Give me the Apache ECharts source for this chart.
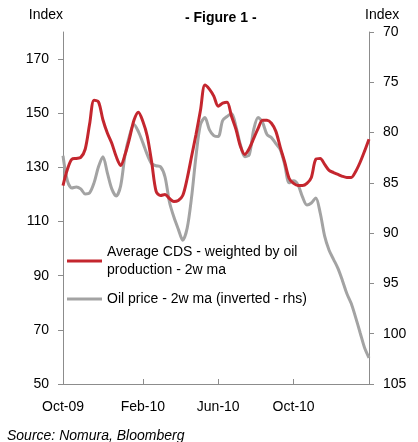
<!DOCTYPE html>
<html>
<head>
<meta charset="utf-8">
<script src="https://cdn.jsdelivr.net/npm/echarts@6/dist/echarts.min.js"></script>
<style>
  html, body { margin: 0; padding: 0; background: #fff; }
  #chart { width: 418px; height: 442px; }
</style>
</head>
<body>
<div id="chart"></div>
<script>
var myChart = echarts.init(document.getElementById('chart'));

var cdsName = 'Average CDS - weighted by oil\nproduction - 2w ma';
var oilName = 'Oil price - 2w ma (inverted - rhs)';
var xTickLabels = ['Oct-09', 'Feb-10', 'Jun-10', 'Oct-10'];
var leftTicks = [50, 70, 90, 110, 130, 150, 170];
var monthNames = ['Jan','Feb','Mar','Apr','May','Jun','Jul','Aug','Sep','Oct','Nov','Dec'];

// weekly observations, first one on 2 Oct 2009
var startDate = Date.UTC(2009, 9, 2);
var cdsValues = [
    123.3, 129.3, 133.0, 133.3, 133.7, 136.7, 146.0, 154.8, 154.2, 147.6,
    142.7, 138.9, 134.0, 130.7, 134.8, 140.7, 147.4, 150.4, 147.0, 141.5,
    131.9, 121.1, 119.6, 120.0, 118.5, 117.4, 117.8, 119.6, 125.9, 134.1,
    142.2, 151.1, 160.4, 158.9, 156.3, 152.6, 153.7, 154.1, 148.9, 144.1,
    137.8, 134.8, 137.0, 140.7, 144.4, 147.4, 147.4, 146.3, 143.3, 137.4,
    131.9, 125.9, 124.1, 123.3, 123.3, 124.1, 126.3, 133.0, 133.3, 131.1,
    128.9, 128.1, 127.4, 126.7, 126.3, 126.3, 128.5, 131.9, 136.0, 140.4
];
var oilValues = [
    82.3, 84.8, 85.5, 85.4, 85.6, 86.1, 86.0, 85.0, 83.4, 82.4,
    84.0, 85.6, 86.3, 85.3, 82.2, 80.3, 79.2, 79.9, 81.0, 82.2,
    83.1, 83.3, 83.4, 84.4, 86.9, 88.4, 89.6, 90.7, 89.5, 86.4,
    82.3, 79.2, 78.5, 79.7, 80.3, 80.4, 78.8, 78.4, 78.1, 79.4,
    81.2, 82.4, 82.2, 79.7, 78.5, 79.0, 80.2, 80.5, 81.1, 81.7,
    83.2, 85.0, 84.8, 85.2, 86.4, 87.2, 87.0, 86.5, 88.0, 90.3,
    91.7, 92.6, 93.5, 94.7, 96.0, 97.0, 98.4, 99.9, 101.4, 102.4
];

var categories = [];
for (var i = 0; i < cdsValues.length; i++) {
    var d = new Date(startDate + i * 7 * 86400000);
    categories.push(d.toISOString().slice(0, 10));
}

function monthLabel(value) {
    var d = new Date(value + 'T00:00:00Z');
    return monthNames[d.getUTCMonth()] + '-' + String(d.getUTCFullYear()).slice(2);
}
function isTick(index, value) {
    var d = new Date(value + 'T00:00:00Z');
    return d.getUTCDate() <= 7 && xTickLabels.indexOf(monthLabel(value)) >= 0;
}

var font = 'Liberation Sans, Arial, sans-serif';
var axisGray = '#8c8c8c';

option = {
    backgroundColor: '#fff',
    animation: false,
    textStyle: { fontFamily: font, color: '#000' },
    title: [
        {
            text: '{n|- }{b|Figure 1}{n| -}',
            left: 180,
            top: 6,
            textStyle: {
                rich: {
                    n: { fontSize: 14, color: '#000', fontFamily: font },
                    b: { fontSize: 14, fontWeight: 'bold', color: '#000', fontFamily: font }
                }
            }
        },
        {
            text: 'Source: Nomura, Bloomberg',
            left: 2,
            top: 424,
            textStyle: { fontSize: 14, fontStyle: 'italic', fontWeight: 'normal', color: '#000', fontFamily: font }
        }
    ],
    legend: [
        {
            data: [cdsName],
            left: 67,
            top: 234,
            padding: 0,
            icon: 'rect',
            itemWidth: 35,
            itemHeight: 3,
            itemGap: 2,
            textStyle: { fontSize: 14, lineHeight: 18, padding: [18, 0, 0, 0], color: '#000', fontFamily: font }
        },
        {
            data: [oilName],
            left: 67,
            top: 290,
            padding: 0,
            icon: 'rect',
            itemWidth: 35,
            itemHeight: 3,
            itemGap: 2,
            textStyle: { fontSize: 14, lineHeight: 18, color: '#000', fontFamily: font }
        }
    ],
    grid: { left: 63, right: 49, top: 32, bottom: 58, containLabel: false },
    xAxis: {
        type: 'category',
        data: categories,
        boundaryGap: false,
        axisLine: { lineStyle: { color: axisGray, width: 1 } },
        axisTick: { inside: true, length: 5, interval: isTick, lineStyle: { color: axisGray } },
        axisLabel: { interval: isTick, formatter: monthLabel, fontSize: 14, margin: 16, color: '#000' },
        splitLine: { show: false }
    },
    yAxis: [
        {
            type: 'value',
            min: 50,
            max: 180,
            interval: 20,
            name: 'Index',
            nameGap: 10,
            nameTextStyle: { fontSize: 14, align: 'right', color: '#000' },
            axisLine: { show: true, lineStyle: { color: axisGray } },
            axisTick: { show: true, length: 5, customValues: leftTicks, lineStyle: { color: axisGray } },
            axisLabel: { customValues: leftTicks, fontSize: 14, margin: 14, color: '#000' },
            splitLine: { show: false }
        },
        {
            type: 'value',
            position: 'right',
            inverse: true,
            min: 70,
            max: 105,
            interval: 5,
            name: 'Index',
            nameLocation: 'start',
            nameGap: 10,
            nameTextStyle: { fontSize: 14, align: 'left', verticalAlign: 'bottom', color: '#000', padding: [0, 0, 0, -4] },
            axisLine: { show: true, lineStyle: { color: axisGray } },
            axisTick: { show: true, length: 5, lineStyle: { color: axisGray } },
            axisLabel: { fontSize: 14, margin: 14, color: '#000' },
            splitLine: { show: false }
        }
    ],
    series: [
        {
            name: oilName,
            type: 'line',
            yAxisIndex: 1,
            data: oilValues,
            showSymbol: false,
            smooth: 0.3,
            color: '#a3a3a3',
            lineStyle: { width: 3, color: '#a3a3a3' }
        },
        {
            name: cdsName,
            type: 'line',
            yAxisIndex: 0,
            data: cdsValues,
            showSymbol: false,
            smooth: 0.3,
            color: '#c4262e',
            lineStyle: { width: 3, color: '#c4262e' }
        }
    ]
};

myChart.setOption(option);
</script>
</body>
</html>
